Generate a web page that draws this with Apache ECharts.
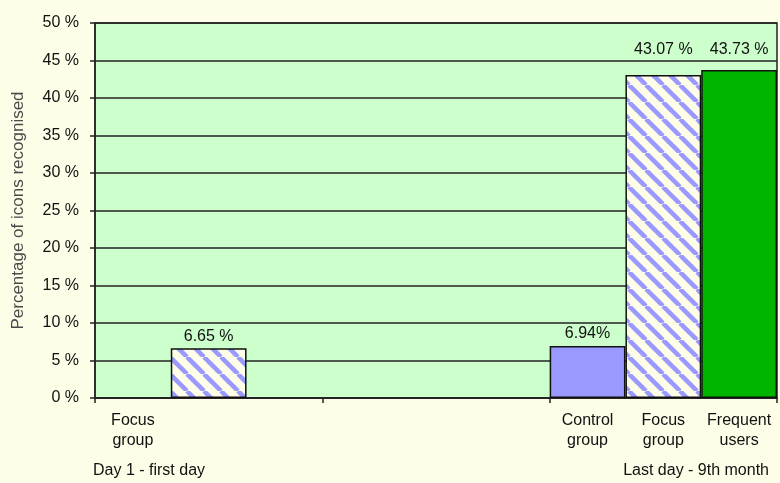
<!DOCTYPE html>
<html>
<head>
<meta charset="utf-8">
<script src="https://cdn.jsdelivr.net/npm/echarts@6/dist/echarts.min.js"></script>
<style>
  html, body { margin: 0; padding: 0; background: #fdfde8; }
  #chart { width: 780px; height: 483px; }
</style>
</head>
<body>
<div id="chart"></div>
<script>
// --- data ---
const periods = ['Day 1 - first day', '', 'Last day - 9th month'];
const controlGroup = [null, null, 6.94];
const focusGroup = [6.65, null, 43.07];
const frequentUsers = [null, null, 43.73];
// bottom labels, one per bar slot (3 slots per period)
const slotLabels = ['Focus\ngroup', '', '', '', '', '', 'Control\ngroup', 'Focus\ngroup', 'Frequent\nusers'];
const yTicks = [0, 5, 10, 15, 20, 25, 30, 35, 40, 45, 50];

const FONT = '"Liberation Sans", Arial, sans-serif';
const CREAM = '#fdfde8';

// diagonal hatch pattern (blue stripes on cream)
const makeHatch = () => {
  const p = 17;
  const c = document.createElement('canvas');
  c.width = p; c.height = p;
  const ctx = c.getContext('2d');
  ctx.fillStyle = CREAM;
  ctx.fillRect(0, 0, p, p);
  ctx.strokeStyle = '#9999ff';
  ctx.lineWidth = 4.5;
  for (const o of [-p, 0, p]) {
    ctx.beginPath();
    ctx.moveTo(o, 0);
    ctx.lineTo(o + p, p);
    ctx.stroke();
  }
  return c;
};

const chart = echarts.init(document.getElementById('chart'));

const labelStyle = { fontFamily: FONT, fontSize: 16, color: '#111' };

const option = {
  backgroundColor: CREAM,
  animation: false,
  grid: {
    left: 95, right: 3, top: 23, bottom: 85,
    outerBoundsMode: 'none',
    containLabel: false,
    show: true, backgroundColor: '#ccffcc', borderColor: '#222', borderWidth: 1.5
  },
  xAxis: [
    {
      type: 'category',
      data: periods,
      axisLine: { lineStyle: { color: '#222', width: 1.5 } },
      axisTick: { show: true, length: 5, lineStyle: { color: '#222', width: 1.5 } },
      axisLabel: { show: false }
    },
    {
      type: 'category',
      data: slotLabels,
      position: 'bottom',
      axisLine: { show: false },
      axisTick: { show: false },
      axisLabel: { ...labelStyle, interval: 0, margin: 13, lineHeight: 20 }
    }
  ],
  yAxis: {
    type: 'value',
    min: yTicks[0],
    max: yTicks[yTicks.length - 1],
    interval: 5,
    name: 'Percentage of icons recognised',
    nameLocation: 'middle',
    nameGap: 68,
    nameTextStyle: { fontFamily: FONT, fontSize: 17, color: '#4a4a4a' },
    axisLine: { show: true, lineStyle: { color: '#222', width: 1.5 } },
    axisTick: { show: true, length: 5, lineStyle: { color: '#222', width: 1.5 } },
    axisLabel: { ...labelStyle, margin: 16, formatter: '{value} %' },
    splitLine: { show: true, lineStyle: { color: '#222', width: 1.5 } }
  },
  graphic: [
    { type: 'text', left: 93, top: 463, style: { text: periods[0], font: '16px ' + FONT, fill: '#111' } },
    { type: 'text', right: 11, top: 463, style: { text: periods[2], font: '16px ' + FONT, fill: '#111' } }
  ],
  series: [
    {
      name: 'Control group',
      type: 'bar',
      data: controlGroup,
      barGap: '0%',
      barCategoryGap: '0%',
      itemStyle: { color: '#9999ff', borderColor: '#111', borderWidth: 1.5 },
      label: { show: true, position: 'top', distance: 4, ...labelStyle, formatter: p => p.value.toFixed(2) + '%' }
    },
    {
      name: 'Focus group',
      type: 'bar',
      data: focusGroup.map((v, i) => i === 2 ? { value: v, label: { distance: 17 } } : v),
      itemStyle: { color: { image: makeHatch(), repeat: 'repeat' }, borderColor: '#111', borderWidth: 1.5 },
      label: { show: true, position: 'top', distance: 4, ...labelStyle, formatter: p => p.value.toFixed(2) + ' %' }
    },
    {
      name: 'Frequent users',
      type: 'bar',
      data: frequentUsers,
      itemStyle: { color: '#00b400', borderColor: '#111', borderWidth: 1.5 },
      label: { show: true, position: 'top', distance: 12, ...labelStyle, formatter: p => p.value.toFixed(2) + ' %' }
    }
  ]
};

chart.setOption(option);
</script>
</body>
</html>
